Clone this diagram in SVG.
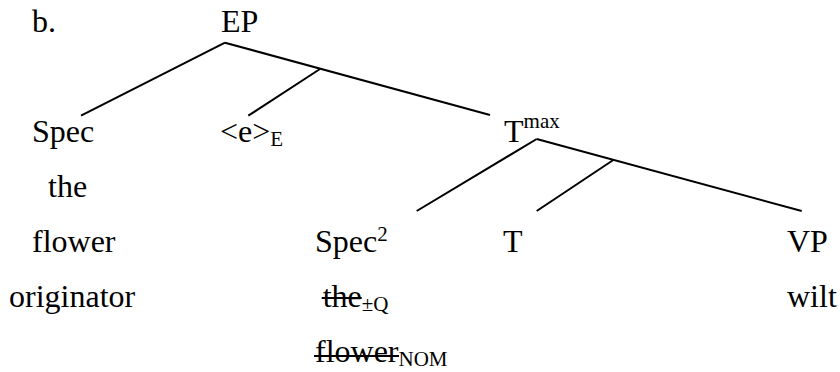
<svg xmlns="http://www.w3.org/2000/svg" width="840" height="372" viewBox="0 0 840 372" font-family="'Liberation Serif', 'Times New Roman', 'DejaVu Serif', serif">
<style>
text{font-family:'Liberation Serif','Times New Roman','DejaVu Serif',serif;font-size:32px;fill:#000}
.s{font-size:21px}
line{stroke:#000;stroke-width:2;stroke-linecap:butt}
</style>
<rect width="840" height="372" fill="#fff"/>
<g id="connectors">
<line x1="225" y1="42.7" x2="81" y2="115.7"/>
<line x1="225" y1="42.7" x2="490" y2="115"/>
<line x1="320" y1="69" x2="248.3" y2="115.7"/>
<line x1="536.7" y1="139" x2="416.7" y2="211"/>
<line x1="536.7" y1="139" x2="801.7" y2="211"/>
<line x1="613.3" y1="160" x2="536.7" y2="211"/>
</g>
<g id="label-b"><text x="32" y="32">b.</text></g>
<g id="node-EP"><text x="221" y="32">EP</text></g>
<g id="node-Spec">
<text x="32" y="142">Spec</text>
<text x="48" y="197">the</text>
<text x="32" y="252">flower</text>
<text x="9" y="307">originator</text>
</g>
<g id="node-e"><text x="220" y="142">&lt;e&gt;<tspan class="s" dy="4">E</tspan></text></g>
<g id="node-Tmax"><text x="504" y="142">T<tspan class="s" dy="-14">max</tspan></text></g>
<g id="node-Spec2">
<text x="315" y="252">Spec<tspan class="s" dy="-11">2</tspan></text>
<text x="322.7" y="307">the<tspan class="s" dy="4">±Q</tspan></text>
<line x1="321.7" y1="298" x2="361.7" y2="298"/>
<text x="315" y="362">flower<tspan class="s" dy="4">NOM</tspan></text>
<line x1="314" y1="356" x2="399" y2="356"/>
</g>
<g id="node-T"><text x="503" y="252">T</text></g>
<g id="node-VP">
<text x="787" y="252">VP</text>
<text x="787" y="307">wilt</text>
</g>
</svg>
